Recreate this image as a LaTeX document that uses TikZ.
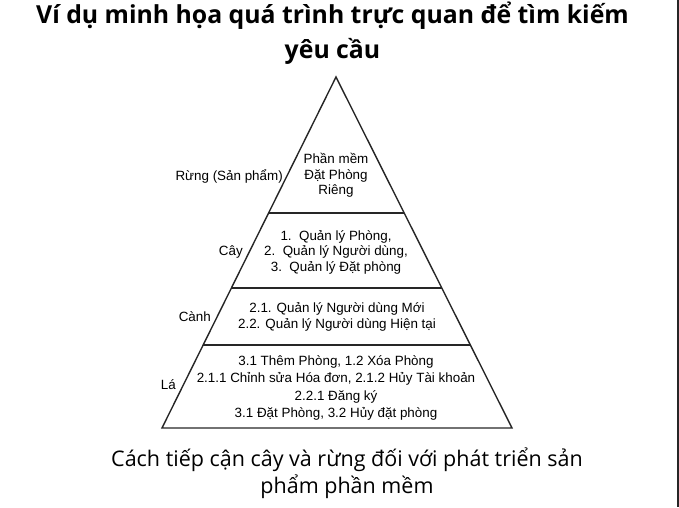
\documentclass[tikz,border=0pt]{standalone}
\usepackage{fontspec}
\setmainfont{Liberation Sans}
\newfontfamily\headfont{Open Sans}
\usetikzlibrary{calc}

\tikzset{
  tier/.style={align=center, inner sep=0pt, font=\fontsize{13.4}{15.5}\selectfont},
  side/.style={anchor=east, inner sep=0pt, font=\fontsize{13.4}{15.5}\selectfont},
  edge/.style={line width=1.4pt, draw=black!85}
}

\begin{document}
\begin{tikzpicture}[x=1pt,y=-1pt]
  \useasboundingbox (0,0) rectangle (679,507);
  \fill[black!85] (676.5,0) rectangle (679,507);

  \node[align=center, inner sep=0pt, font=\headfont\bfseries\fontsize{24.8}{35}\selectfont]
    (title) at (332.5,33) {Ví dụ minh họa quá trình trực quan để tìm kiếm\\yêu cầu};

  \coordinate (apex) at (336,77);
  \coordinate (bl) at (162,428);
  \coordinate (br) at (512,428);
  \draw[edge, line join=miter] (apex) -- (bl) -- (br) -- cycle;
  \draw[edge] ($(apex)!0.3875!(bl)$) -- ($(apex)!0.3875!(br)$);
  \draw[edge] ($(apex)!0.6011!(bl)$) -- ($(apex)!0.6011!(br)$);
  \draw[edge] ($(apex)!0.7635!(bl)$) -- ($(apex)!0.7635!(br)$);

  \node[tier] (forest) at (336,175.5) {Phần mềm\\Đặt Phòng\\Riêng};
  \node[tier] (tree) at (336,252) {1.\ \ Quản lý Phòng,\\2.\ \ Quản lý Người dùng,\\3.\ \ Quản lý Đặt phòng};
  \node[tier] (branch) at (337,317) {2.1. Quản lý Người dùng Mới\\2.2. Quản lý Người dùng Hiện tại};
  \node[tier, font=\fontsize{13.4}{17.3}\selectfont] (leaf) at (336,388)
    {3.1 Thêm Phòng, 1.2 Xóa Phòng\\2.1.1 Chỉnh sửa Hóa đơn, 2.1.2 Hủy Tài khoản\\2.2.1 Đăng ký\\3.1 Đặt Phòng, 3.2 Hủy đặt phòng};

  \node[side] (forestlabel) at (283,176) {Rừng (Sản phẩm)};
  \node[side] (treelabel) at (243,252) {Cây};
  \node[side] (branchlabel) at (211,317) {Cành};
  \node[side] (leaflabel) at (176,385) {Lá};

  \node[align=center, inner sep=0pt, font=\headfont\fontsize{21.5}{27}\selectfont]
    (caption) at (347,473) {Cách tiếp cận cây và rừng đối với phát triển sản\\phẩm phần mềm};
\end{tikzpicture}
\end{document}
